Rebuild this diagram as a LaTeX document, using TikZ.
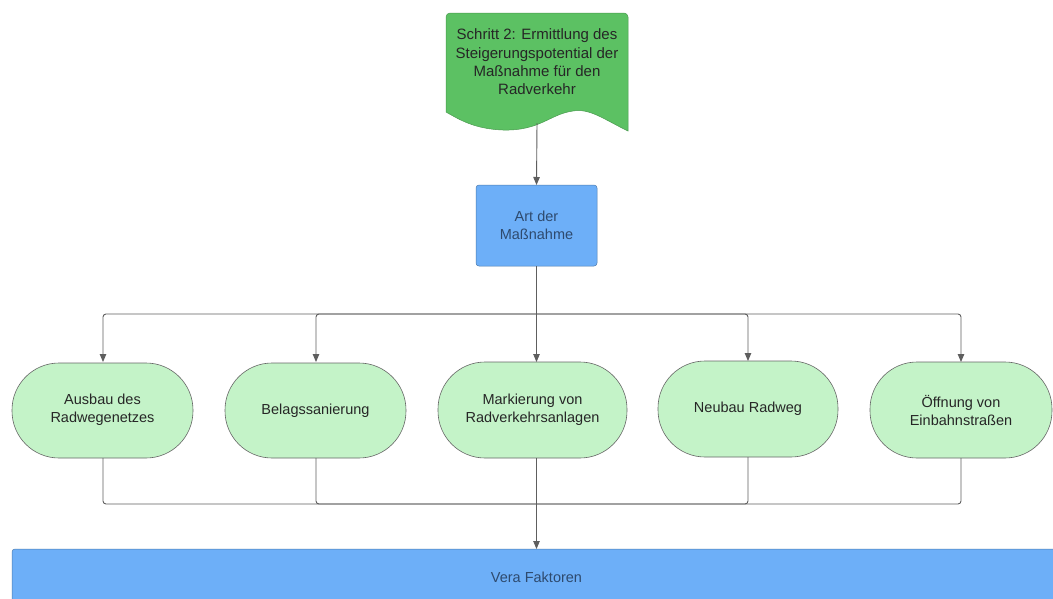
\documentclass[tikz,border=0pt]{standalone}
\usepackage{fontspec}
\setmainfont{Liberation Sans}
\usetikzlibrary{arrows.meta}
\definecolor{docgreen}{HTML}{5CC163}
\definecolor{paleg}{HTML}{C4F3C8}
\definecolor{bluebox}{HTML}{6DAFF8}
\definecolor{linegray}{HTML}{5E5E5E}
\definecolor{bluetext}{HTML}{2E4A6E}
\begin{document}
\begin{tikzpicture}[x=1pt,y=-1pt,
  txt/.style={font=\fontsize{14.5pt}{18pt}\selectfont, align=center, text=black!85},
  stadium/.style={draw=black!60, fill=paleg, line width=0.6pt, rounded corners=47pt},
  conn/.style={draw=linegray, line width=0.9pt, rounded corners=3pt},
  arr/.style={conn, -{Triangle[length=8pt,width=6.5pt]}}
]
\clip (0,0) rectangle (1053,598);
\fill[white] (0,0) rectangle (1053,598);

% document shape
\draw[fill=docgreen, draw=docgreen!80!black, line width=0.5pt]
  (446,112) -- (446,17) [rounded corners=4pt] -- (446,13) -- (628,13) [sharp corners] -- (628,17) -- (628,131)
  .. controls (605,120) and (590,108) .. (573,111)
  .. controls (550,114) and (540,131) .. (503,130)
  .. controls (475,129) and (460,120) .. (446,112) -- cycle;
\node[txt, font=\fontsize{15pt}{18.3pt}\selectfont] (doc) at (537,62) {Schritt 2: Ermittlung des\\Steigerungspotential der\\Maßnahme für den\\Radverkehr};
\coordinate (docb) at (537,123);

% Art der Massnahme
\draw[fill=bluebox, draw=bluebox!70!black, line width=0.5pt, rounded corners=3pt] (476,185) rectangle (597,266);
\node[txt, text=bluetext] (art) at (536.5,225) {Art der\\Maßnahme};
\coordinate (artt) at (536.5,185);
\coordinate (artb) at (536.5,266);

% stadium nodes
\draw[stadium] (12,363) rectangle (193,458);
\node[txt] (n1) at (102.5,410) {Ausbau des\\Radwegenetzes};
\draw[stadium] (225,363) rectangle (406,458);
\node[txt] (n2) at (315.5,410.5) {Belagssanierung};
\draw[stadium] (438,362) rectangle (627,458);
\node[txt] (n3) at (532.5,410) {Markierung von\\Radverkehrsanlagen};
\draw[stadium] (658,361) rectangle (838,457);
\node[txt] (n4) at (748,409) {Neubau Radweg};
\draw[stadium] (870,362) rectangle (1052,458);
\node[txt] (n5) at (961,410) {Öffnung von\\Einbahnstraßen};

\coordinate (t1) at (103,362);
\coordinate (t2) at (316,362);
\coordinate (t3) at (536.5,362);
\coordinate (t4) at (748,361);
\coordinate (t5) at (961,362);
\coordinate (b1) at (103,458);
\coordinate (b2) at (316,458);
\coordinate (b3) at (536.5,458);
\coordinate (b4) at (748,457);
\coordinate (b5) at (961,458);

% Vera box
\draw[fill=bluebox, draw=bluebox!70!black, line width=0.5pt, rounded corners=3pt] (12,549) rectangle (1070,620);
\node[txt, text=bluetext] (vera) at (536.5,577) {Vera Faktoren};
\coordinate (verat) at (536.5,549);

% connectors
\draw[arr] (docb) -- (artt);
\draw[arr] (artb) -- (t3);
\draw[arr] (536.5,314) -| (t1);
\draw[arr] (536.5,314) -| (t2);
\draw[arr] (536.5,314) -| (t4);
\draw[arr] (536.5,314) -| (t5);
\draw[conn] (b1) |- (536.5,504);
\draw[conn] (b2) |- (536.5,504);
\draw[conn] (b4) |- (536.5,504);
\draw[conn] (b5) |- (536.5,504);
\draw[arr] (b3) -- (verat);
\end{tikzpicture}
\end{document}
